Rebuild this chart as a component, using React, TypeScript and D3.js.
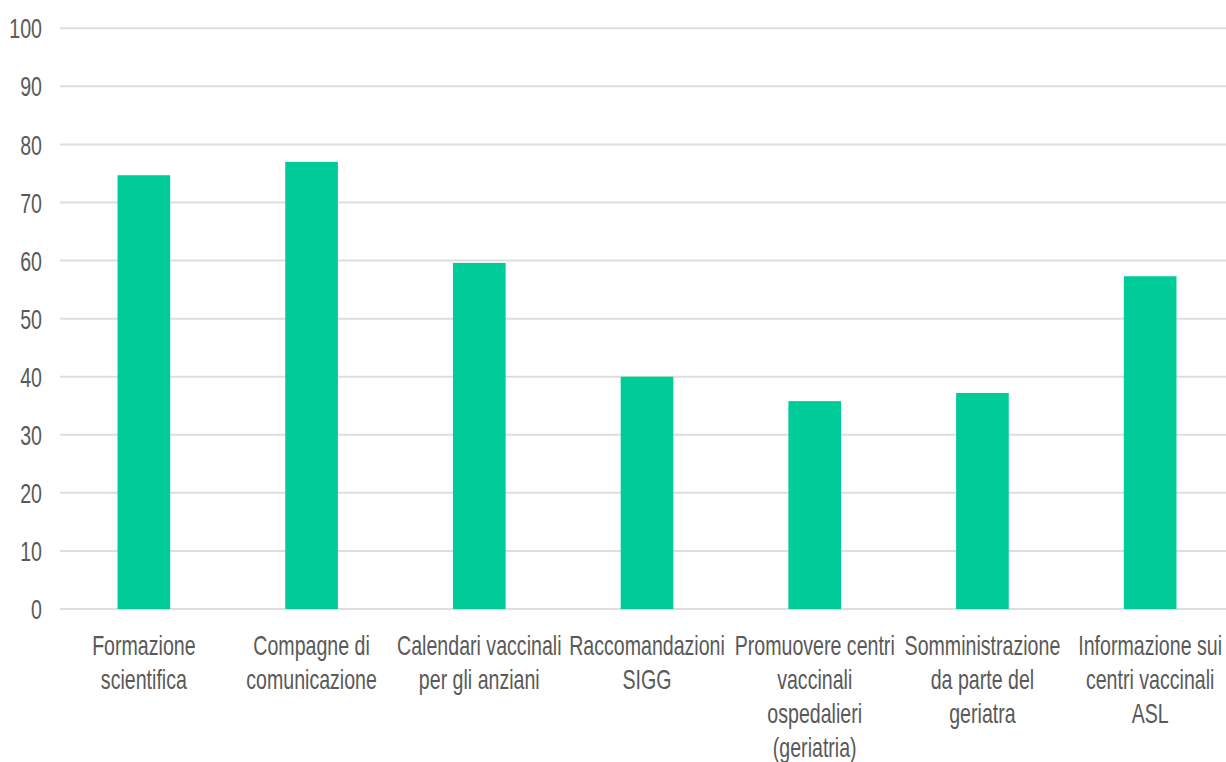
import React from "react";
import * as d3 from "d3";

const categories: string[][] = [
  ["Formazione", "scientifica"],
  ["Compagne di", "comunicazione"],
  ["Calendari vaccinali", "per gli anziani"],
  ["Raccomandazioni", "SIGG"],
  ["Promuovere centri", "vaccinali", "ospedalieri", "(geriatria)"],
  ["Somministrazione", "da parte del", "geriatra"],
  ["Informazione sui", "centri vaccinali", "ASL"],
];
const values: number[] = [74.7, 77.0, 59.6, 40.0, 35.8, 37.2, 57.3];
const yTicks: number[] = [0, 10, 20, 30, 40, 50, 60, 70, 80, 90, 100];

const W = 1226;
const H = 762;
const FONT = "'Liberation Sans', Arial, sans-serif";
const SX = 0.7;

export default function App() {
  const keys = categories.map((c) => c.join(" "));
  const x = d3
    .scaleBand<string>()
    .domain(keys)
    .range([60, 1234])
    .paddingInner(0.686)
    .paddingOuter(0.343);
  const y = d3.scaleLinear().domain([0, 100]).range([609, 28.3]);

  return (
    <svg
      width={W}
      height={H}
      style={{ position: "absolute", left: 0, top: 0, display: "block", background: "#fff" }}
    >
      {yTicks.map((t) => (
        <g key={t}>
          <line x1={60} x2={1234} y1={y(t)} y2={y(t)} stroke="#dedede" strokeWidth={2} />
          <text
            transform={`translate(42,${y(t)}) scale(${SX},1)`}
            textAnchor="end"
            dy="0.36em"
            fontFamily={FONT}
            fontSize={28}
            fill="#595959"
          >
            {t}
          </text>
        </g>
      ))}
      {values.map((v, i) => (
        <rect
          key={keys[i]}
          x={x(keys[i])}
          y={y(v)}
          width={x.bandwidth()}
          height={y(0) - y(v)}
          fill="#00cc99"
        />
      ))}
      {categories.map((lines, i) => {
        const cx = (x(keys[i]) as number) + x.bandwidth() / 2;
        return lines.map((ln, j) => (
          <text
            key={`${i}-${j}`}
            transform={`translate(${cx},${655 + j * 34}) scale(${SX},1)`}
            textAnchor="middle"
            fontFamily={FONT}
            fontSize={28}
            fill="#595959"
          >
            {ln}
          </text>
        ));
      })}
    </svg>
  );
}
